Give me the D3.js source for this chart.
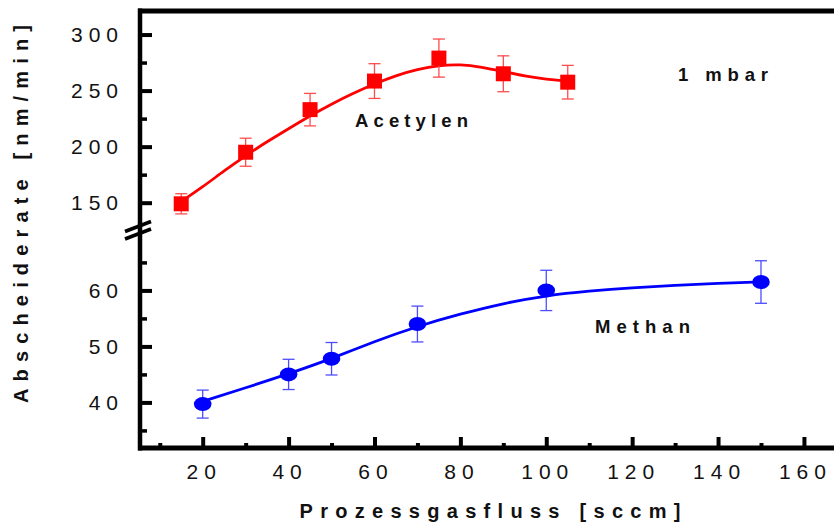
<!DOCTYPE html>
<html>
<head>
<meta charset="utf-8">
<script src="https://cdn.jsdelivr.net/npm/d3@7"></script>
<style>
  html, body { margin: 0; padding: 0; background: #fff; }
  svg { display: block; font-family: "Liberation Sans", Arial, sans-serif; }
</style>
</head>
<body>
<svg id="chart" width="834" height="525"></svg>
<script>
// Measured points: deposition rate vs. process gas flow
const flowAcetylen = [15, 30, 45, 60, 75, 90, 105];
const rateAcetylen = [149, 195, 233, 258.5, 279, 265, 257.5];
const errAcetylen  = [9, 12.5, 14.5, 15.5, 17, 16, 15];

const flowMethan = [20, 40, 50, 70, 100, 150];
const rateMethan = [39.7, 45, 47.8, 54, 60, 61.5];
const errMethan  = [2.5, 2.7, 2.9, 3.2, 3.6, 3.8];

// Fitted curves
const fitAcetylenFlow = [15, 20, 25, 30, 35, 40, 45, 50, 55, 60, 65, 70, 75, 80, 85, 90, 95, 100, 105];
const fitAcetylenRate = [151, 164, 178.5, 192, 204.5, 216, 227.5, 238, 247.5, 256, 263.5, 269, 272.5, 273.5, 271, 267, 263, 260, 258.5];
const fitMethanFlow = [20, 30, 40, 50, 60, 70, 80, 90, 100, 110, 120, 130, 140, 150];
const fitMethanRate = [40.2, 42.6, 45.1, 47.8, 50.9, 53.6, 55.8, 57.7, 59.1, 59.9, 60.5, 60.9, 61.3, 61.5];

// Axis ticks
const xMajorTicks = [20, 40, 60, 80, 100, 120, 140, 160];
const xMinorTicks = [10, 30, 50, 70, 90, 110, 130, 150];
const yUpperMajor = [150, 200, 250, 300];
const yUpperMinor = [175, 225, 275];
const yLowerMajor = [40, 50, 60];
const yLowerMinor = [35, 45, 55, 65];

const svg = d3.select("#chart");

const plotLeft = 140, plotTop = 11, plotBottom = 448;

const x = d3.scaleLinear().domain([5.4, 167]).range([plotLeft, 834]);
// broken y axis: upper segment (Acetylen) and lower segment (Methan)
const yUp = d3.scaleLinear().domain([130, 321]).range([225.1, plotTop]);
const yLo = d3.scaleLinear().domain([31.86, 70.13]).range([plotBottom, 233.7]);

const RED = "#ff0000", BLUE = "#0000ff";

// frame: top border
svg.append("line")
  .attr("x1", plotLeft - 2).attr("x2", 834).attr("y1", plotTop).attr("y2", plotTop)
  .attr("stroke", "#000").attr("stroke-width", 5);

// y axis ticks + labels
function yAxis(scale, major, minor) {
  const gMaj = svg.append("g").attr("transform", `translate(${plotLeft},0)`)
    .call(d3.axisLeft(scale).tickValues(major).tickSizeInner(-12).tickSizeOuter(0).tickPadding(16));
  gMaj.select(".domain").remove();
  gMaj.selectAll(".tick line").attr("stroke", "#000").attr("stroke-width", 4);
  gMaj.selectAll(".tick text")
    .attr("font-size", 21).attr("fill", "#111")
    .attr("font-family", "'Liberation Sans', Arial, sans-serif")
    .style("letter-spacing", "6px");
  const gMin = svg.append("g").attr("transform", `translate(${plotLeft},0)`)
    .call(d3.axisLeft(scale).tickValues(minor).tickSizeInner(-7).tickSizeOuter(0).tickFormat(""));
  gMin.select(".domain").remove();
  gMin.selectAll(".tick line").attr("stroke", "#000").attr("stroke-width", 3.5);
}
yAxis(yUp, yUpperMajor, yUpperMinor);
yAxis(yLo, yLowerMajor, yLowerMinor);

// x axis ticks + labels
const gxMaj = svg.append("g").attr("transform", `translate(0,${plotBottom})`)
  .call(d3.axisBottom(x).tickValues(xMajorTicks).tickSizeInner(-11).tickSizeOuter(0).tickPadding(16));
gxMaj.select(".domain").remove();
gxMaj.selectAll(".tick line").attr("stroke", "#000").attr("stroke-width", 4);
gxMaj.selectAll(".tick text")
  .attr("font-size", 21).attr("fill", "#111")
  .attr("font-family", "'Liberation Sans', Arial, sans-serif")
  .attr("dx", 1)
  .style("letter-spacing", "6px");
const gxMin = svg.append("g").attr("transform", `translate(0,${plotBottom})`)
  .call(d3.axisBottom(x).tickValues(xMinorTicks).tickSizeInner(-5).tickSizeOuter(0).tickFormat(""));
gxMin.select(".domain").remove();
gxMin.selectAll(".tick line").attr("stroke", "#000").attr("stroke-width", 4);

// axis lines
svg.append("line")
  .attr("x1", plotLeft).attr("x2", plotLeft).attr("y1", plotTop - 2.5).attr("y2", plotBottom + 2.5)
  .attr("stroke", "#000").attr("stroke-width", 4.5);
svg.append("line")
  .attr("x1", plotLeft - 2).attr("x2", 834).attr("y1", plotBottom).attr("y2", plotBottom)
  .attr("stroke", "#000").attr("stroke-width", 5);

// axis break marks
[0, 7.5].forEach(off => {
  svg.append("line")
    .attr("x1", plotLeft - 15).attr("y1", 231.5 + off)
    .attr("x2", plotLeft + 11).attr("y2", 221.5 + off)
    .attr("stroke", "#000").attr("stroke-width", 3.5);
});

// axis titles
svg.append("text")
  .attr("transform", "translate(28,214) rotate(-90)")
  .attr("text-anchor", "middle")
  .attr("font-size", 20).attr("font-weight", "bold").attr("fill", "#111")
  .attr("textLength", 378).attr("lengthAdjust", "spacing")
  .text("Abscheiderate [nm/min]");

svg.append("text")
  .attr("x", 490).attr("y", 518)
  .attr("text-anchor", "middle")
  .attr("font-size", 20).attr("font-weight", "bold").attr("fill", "#111")
  .attr("textLength", 381).attr("lengthAdjust", "spacing")
  .text("Prozessgasfluss [sccm]");

// series
function drawSeries(flow, rate, err, fitFlow, fitRate, yScale, color, errColor, marker) {
  const line = d3.line().x(d => x(d[0])).y(d => yScale(d[1])).curve(d3.curveBasis);
  svg.append("path")
    .datum(fitFlow.map((f, i) => [f, fitRate[i]]))
    .attr("d", line)
    .attr("fill", "none").attr("stroke", color).attr("stroke-width", 2.8);

  const pts = flow.map((f, i) => ({ f, v: rate[i], e: err[i] }));
  const g = svg.append("g");
  const eb = g.selectAll("g.err").data(pts).join("g").attr("class", "err")
    .attr("stroke", errColor).attr("stroke-width", 1.3);
  eb.append("line")
    .attr("x1", d => x(d.f)).attr("x2", d => x(d.f))
    .attr("y1", d => yScale(d.v + d.e)).attr("y2", d => yScale(d.v - d.e));
  eb.append("line")
    .attr("x1", d => x(d.f) - 6).attr("x2", d => x(d.f) + 6)
    .attr("y1", d => yScale(d.v + d.e)).attr("y2", d => yScale(d.v + d.e));
  eb.append("line")
    .attr("x1", d => x(d.f) - 6).attr("x2", d => x(d.f) + 6)
    .attr("y1", d => yScale(d.v - d.e)).attr("y2", d => yScale(d.v - d.e));

  if (marker === "square") {
    g.selectAll("rect").data(pts).join("rect")
      .attr("x", d => x(d.f) - 7.5).attr("y", d => yScale(d.v) - 7.5)
      .attr("width", 15).attr("height", 15)
      .attr("fill", color);
  } else {
    g.selectAll("ellipse").data(pts).join("ellipse")
      .attr("cx", d => x(d.f)).attr("cy", d => yScale(d.v))
      .attr("rx", 8.8).attr("ry", 7)
      .attr("fill", color);
  }
}

drawSeries(flowAcetylen, rateAcetylen, errAcetylen, fitAcetylenFlow, fitAcetylenRate, yUp, RED, "#ff4d4d", "square");
drawSeries(flowMethan, rateMethan, errMethan, fitMethanFlow, fitMethanRate, yLo, BLUE, "#4d4dff", "circle");

// annotations
function label(txt, x0, x1, yb) {
  svg.append("text")
    .attr("x", x0).attr("y", yb)
    .attr("font-size", 18.5).attr("font-weight", "bold").attr("fill", "#111")
    .attr("textLength", x1 - x0).attr("lengthAdjust", "spacing")
    .text(txt);
}
label("Acetylen", 355, 468, 127);
label("1 mbar", 678, 768, 81);
label("Methan", 595, 690, 333);
</script>
</body>
</html>
